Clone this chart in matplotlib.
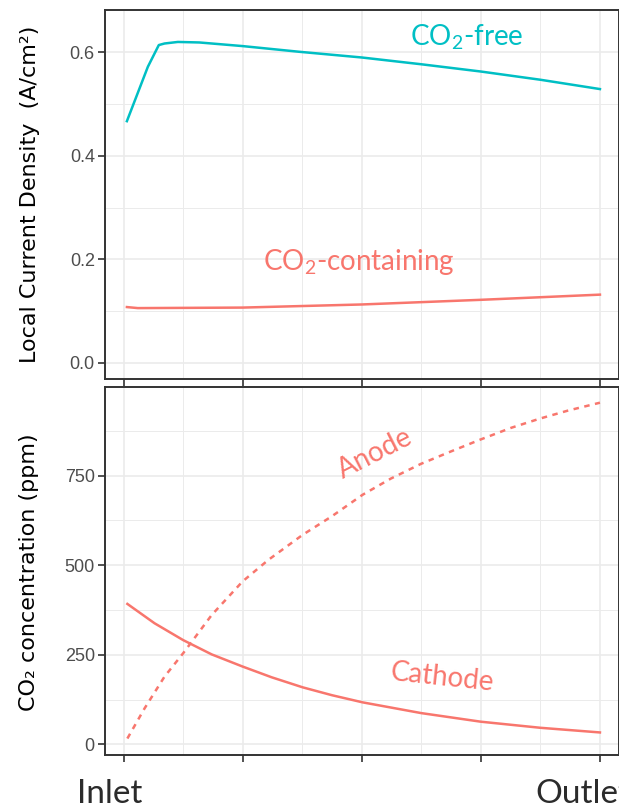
import matplotlib
matplotlib.use("Agg")
import matplotlib.pyplot as plt
import numpy as np

plt.rcParams['mathtext.fontset'] = 'custom'
plt.rcParams['mathtext.rm'] = 'Lato'
plt.rcParams['mathtext.it'] = 'Lato:italic'

# ---- data (position along channel: 0 = Inlet, 1 = Outlet) ----
free_x = [0.007, 0.051, 0.074, 0.086, 0.114, 0.159, 0.25, 0.369, 0.5, 0.624, 0.749, 0.875, 1.0]
free_y = [0.467, 0.572, 0.614, 0.617, 0.620, 0.619, 0.612, 0.601, 0.590, 0.577, 0.563, 0.547, 0.529]

cont_x = [0.007, 0.03, 0.25, 0.5, 0.75, 1.0]
cont_y = [0.108, 0.106, 0.107, 0.113, 0.122, 0.132]

cath_x = [0.008, 0.065, 0.125, 0.185, 0.25, 0.311, 0.376, 0.4375, 0.502, 0.625, 0.75, 0.875, 1.0]
cath_y = [392, 338, 291, 251, 217, 187, 159, 137, 117, 87, 63, 46, 33]

anode_x = [0.008, 0.044, 0.086, 0.125, 0.185, 0.25, 0.304, 0.376, 0.4375, 0.502, 0.561, 0.624, 0.6875, 0.749, 0.814, 0.875, 0.933, 1.0]
anode_y = [16, 100, 189, 254, 361, 455, 515, 585, 637, 697, 742, 783, 818, 851, 884, 910, 932, 954]

top_yticks = [0.0, 0.2, 0.4, 0.6]
top_ytick_labels = ["0.0", "0.2", "0.4", "0.6"]
bot_yticks = [0, 250, 500, 750]
bot_ytick_labels = ["0", "250", "500", "750"]
x_major = [0, 0.25, 0.5, 0.75, 1.0]
x_minor = [0.125, 0.375, 0.625, 0.875]

TEAL = "#00BFC4"
SALMON = "#F8766D"
GRID = "#EBEBEB"
BORDER = "#333333"
TICKC = "#4D4D4D"

W, H = 619, 808
fig = plt.figure(figsize=(W / 100, H / 100), dpi=100)

def px_axes(left, top, right, bottom):
    return fig.add_axes([left / W, 1 - bottom / H, (right - left) / W, (bottom - top) / H])

ax1 = px_axes(104.5, 10, 619, 379.3)
ax2 = px_axes(104.5, 387.3, 619, 755)

xlim = (-0.04, 1.04)

def style(ax, yticks, ylabels, yminor):
    ax.set_xlim(*xlim)
    ax.set_xticks(x_major)
    ax.set_xticklabels([""] * len(x_major))
    ax.set_xticks(x_minor, minor=True)
    ax.set_yticks(yticks)
    ax.set_yticklabels(ylabels, fontfamily=['Liberation Sans', 'DejaVu Sans'], fontsize=13, color=TICKC)
    ax.set_yticks(yminor, minor=True)
    ax.grid(which='major', color=GRID, linewidth=1.2)
    ax.grid(which='minor', color=GRID, linewidth=0.7)
    ax.set_axisbelow(True)
    for s in ax.spines.values():
        s.set_color(BORDER)
        s.set_linewidth(1.4)
    ax.tick_params(which='major', length=5, width=1.2, color=BORDER, pad=2)
    ax.tick_params(which='minor', length=0)

style(ax1, top_yticks, top_ytick_labels, [0.1, 0.3, 0.5])
ax1.set_ylim(-0.0315, 0.6817)
style(ax2, bot_yticks, bot_ytick_labels, [125, 375, 625, 875])
ax2.set_ylim(-30, 997)

ax1.plot(free_x, free_y, color=TEAL, lw=1.8)
ax1.plot(cont_x, cont_y, color=SALMON, lw=1.8)
ax2.plot(cath_x, cath_y, color=SALMON, lw=1.8)
ax2.plot(anode_x, anode_y, color=SALMON, lw=1.8, linestyle=(0, (2.2, 2.2)))

ann = dict(fontfamily='Lato', fontsize=20)
fig.text(467 / W, 1 - 37 / H, "CO$_2$-free", color=TEAL, ha='center', va='center', **ann)
fig.text(359 / W, 1 - 262 / H, "CO$_2$-containing", color=SALMON, ha='center', va='center', **ann)
fig.text(375 / W, 1 - 454 / H, "Anode", color=SALMON, ha='center', va='center', rotation=27, **ann)
fig.text(442 / W, 1 - 677 / H, "Cathode", color=SALMON, ha='center', va='center', rotation=-6, **ann)

fig.text(110 / W, 1 - 794 / H, "Inlet", color="#2B2B2B", ha='center', va='center', fontfamily='Lato', fontsize=24)
fig.text(535 / W, 1 - 794 / H, "Outlet", color="#2B2B2B", ha='left', va='center', fontfamily='Lato', fontsize=24)

fig.text(30 / W, 1 - 194 / H, "Local Current Density  (A/cm\u00b2)", rotation=90, ha='center', va='center',
         fontfamily=['DejaVu Sans'], fontsize=16, color='black')
fig.text(29 / W, 1 - 572 / H, "CO\u2082 concentration (ppm)", rotation=90, ha='center', va='center',
         fontfamily=['DejaVu Sans'], fontsize=16, color='black')

fig.savefig("out.png", dpi=100)
